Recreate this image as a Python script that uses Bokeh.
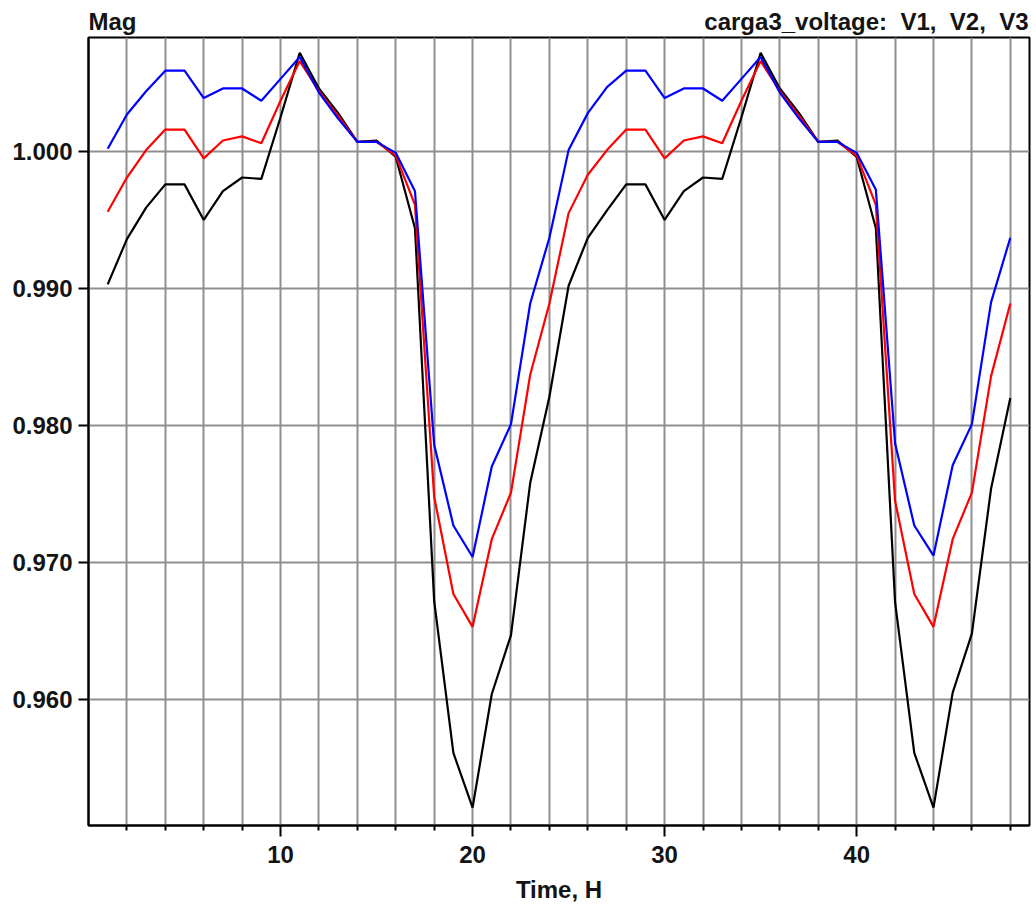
from bokeh.plotting import figure
from bokeh.layouts import column
from bokeh.models import Range1d, FixedTicker, SingleIntervalTicker, NumeralTickFormatter, ColumnDataSource
from bokeh.core.properties import value
from bokeh.embed import file_html
from bokeh.resources import INLINE

hours = list(range(1, 49))

v1 = [0.9903, 0.9936, 0.9959, 0.9976, 0.9976, 0.9950, 0.9971, 0.9981, 0.9980, 1.0025, 1.0072, 1.0046,
      1.0028, 1.0007, 1.0008, 0.9996, 0.9944, 0.9672, 0.9561, 0.9521, 0.9604, 0.9647, 0.9758, 0.9821,
      0.9902, 0.9937, 0.9957, 0.9976, 0.9976, 0.9950, 0.9971, 0.9981, 0.9980, 1.0025, 1.0072, 1.0046,
      1.0028, 1.0007, 1.0008, 0.9996, 0.9944, 0.9671, 0.9561, 0.9521, 0.9605, 0.9648, 0.9754, 0.9820]

v2 = [0.9956, 0.9981, 1.0001, 1.0016, 1.0016, 0.9995, 1.0008, 1.0011, 1.0006, 1.0037, 1.0066, 1.0044,
      1.0026, 1.0007, 1.0007, 0.9997, 0.9961, 0.9748, 0.9677, 0.9653, 0.9717, 0.9751, 0.9837, 0.9889,
      0.9955, 0.9983, 1.0001, 1.0016, 1.0016, 0.9995, 1.0008, 1.0011, 1.0006, 1.0037, 1.0066, 1.0044,
      1.0026, 1.0007, 1.0007, 0.9997, 0.9961, 0.9745, 0.9677, 0.9653, 0.9717, 0.9751, 0.9836, 0.9889]

v3 = [1.0002, 1.0027, 1.0044, 1.0059, 1.0059, 1.0039, 1.0046, 1.0046, 1.0037, 1.0053, 1.0069, 1.0043,
      1.0024, 1.0007, 1.0007, 0.9999, 0.9971, 0.9786, 0.9727, 0.9704, 0.9770, 0.9801, 0.9889, 0.9937,
      1.0001, 1.0028, 1.0047, 1.0059, 1.0059, 1.0039, 1.0046, 1.0046, 1.0037, 1.0053, 1.0069, 1.0043,
      1.0024, 1.0007, 1.0007, 0.9999, 0.9972, 0.9787, 0.9727, 0.9705, 0.9771, 0.9801, 0.9890, 0.9937]

series_names = ["V1", "V2", "V3"]
series_colors = ["#000000", "#ff0000", "#0000ff"]
x_major_ticks = [10, 20, 30, 40]
x_minor_ticks = [2, 4, 6, 8, 12, 14, 16, 18, 22, 24, 26, 28, 32, 34, 36, 38, 42, 44, 46, 48]
title_left = "Mag"
title_right = "carga3_voltage: \u00a0V1, \u00a0V2, \u00a0V3"
x_title = "Time, H"

FONT = "Liberation Sans"
FS = "24px"
TXT = "#141414"
GRID = "#8f8f8f"
W = 1032
HEAD_H = 35
LB, RB = 88, 3   # frame borders (px), shared by header and chart

# ---- header strip with the two titles; its frame lines up with the chart frame ----
head = figure(width=W, height=HEAD_H, output_backend="svg", toolbar_location=None,
              x_axis_location=None, y_axis_location=None,
              x_range=Range1d(LB, W - RB), y_range=Range1d(0, HEAD_H),
              min_border_left=LB, min_border_right=RB, min_border_top=0, min_border_bottom=0,
              background_fill_color="white", border_fill_color="white")
head.grid.visible = False
head.outline_line_color = None
head.title.visible = False
head.text(x=[LB], y=[14], text=[title_left], text_font=value(FONT), text_font_style="bold",
          text_font_size=FS, text_color=TXT, text_align="left", text_baseline="alphabetic")
head.text(x=[W - RB - 1], y=[14], text=[title_right], text_font=value(FONT), text_font_style="bold",
          text_font_size=FS, text_color=TXT, text_align="right", text_baseline="alphabetic")

# ---- main chart ----
p = figure(width=W, height=870, output_backend="svg", toolbar_location=None,
           x_range=Range1d(0, 49.0), y_range=Range1d(0.95080, 1.00832),
           min_border_left=LB, min_border_right=RB, min_border_top=2, min_border_bottom=80,
           background_fill_color="white", border_fill_color="white")
p.title.visible = False
p.outline_line_color = "black"
p.outline_line_width = 2

src = ColumnDataSource(dict(h=hours, v1=v1, v2=v2, v3=v3))
for col, colr in zip(["v1", "v2", "v3"], series_colors):
    p.line("h", col, source=src, line_color=colr, line_width=2.2)

xt = FixedTicker(ticks=x_major_ticks, minor_ticks=x_minor_ticks)
yt = SingleIntervalTicker(interval=0.01, num_minor_ticks=0)
p.xaxis.ticker = xt
p.yaxis.ticker = yt
p.xgrid.ticker = xt
p.ygrid.ticker = yt
p.yaxis.formatter = NumeralTickFormatter(format="0.000")

for ax in (p.xaxis[0], p.yaxis[0]):
    ax.axis_line_color = "black"
    ax.axis_line_width = 2
    ax.major_tick_line_color = "black"
    ax.major_tick_line_width = 2
    ax.minor_tick_line_color = "black"
    ax.minor_tick_line_width = 2
    ax.major_tick_in = 0
    ax.minor_tick_in = 0
    ax.major_label_text_font = FONT
    ax.major_label_text_font_style = "bold"
    ax.major_label_text_font_size = FS
    ax.major_label_text_color = TXT

p.xaxis.major_tick_out = 11
p.xaxis.minor_tick_out = 5
p.xaxis.major_label_standoff = 9
p.xaxis.axis_label = x_title
p.xaxis.axis_label_text_font = FONT
p.xaxis.axis_label_text_font_style = "bold"
p.xaxis.axis_label_text_font_size = FS
p.xaxis.axis_label_text_color = TXT
p.xaxis.axis_label_standoff = 10

p.yaxis.major_tick_out = 10
p.yaxis.minor_tick_line_color = None
p.yaxis.major_label_standoff = 6

p.xgrid.grid_line_color = GRID
p.xgrid.grid_line_width = 2
p.xgrid.minor_grid_line_color = GRID
p.xgrid.minor_grid_line_width = 2
p.ygrid.grid_line_color = GRID
p.ygrid.grid_line_width = 2

layout = column(head, p, spacing=0)
open("out.html", "w").write(file_html(layout, INLINE))
